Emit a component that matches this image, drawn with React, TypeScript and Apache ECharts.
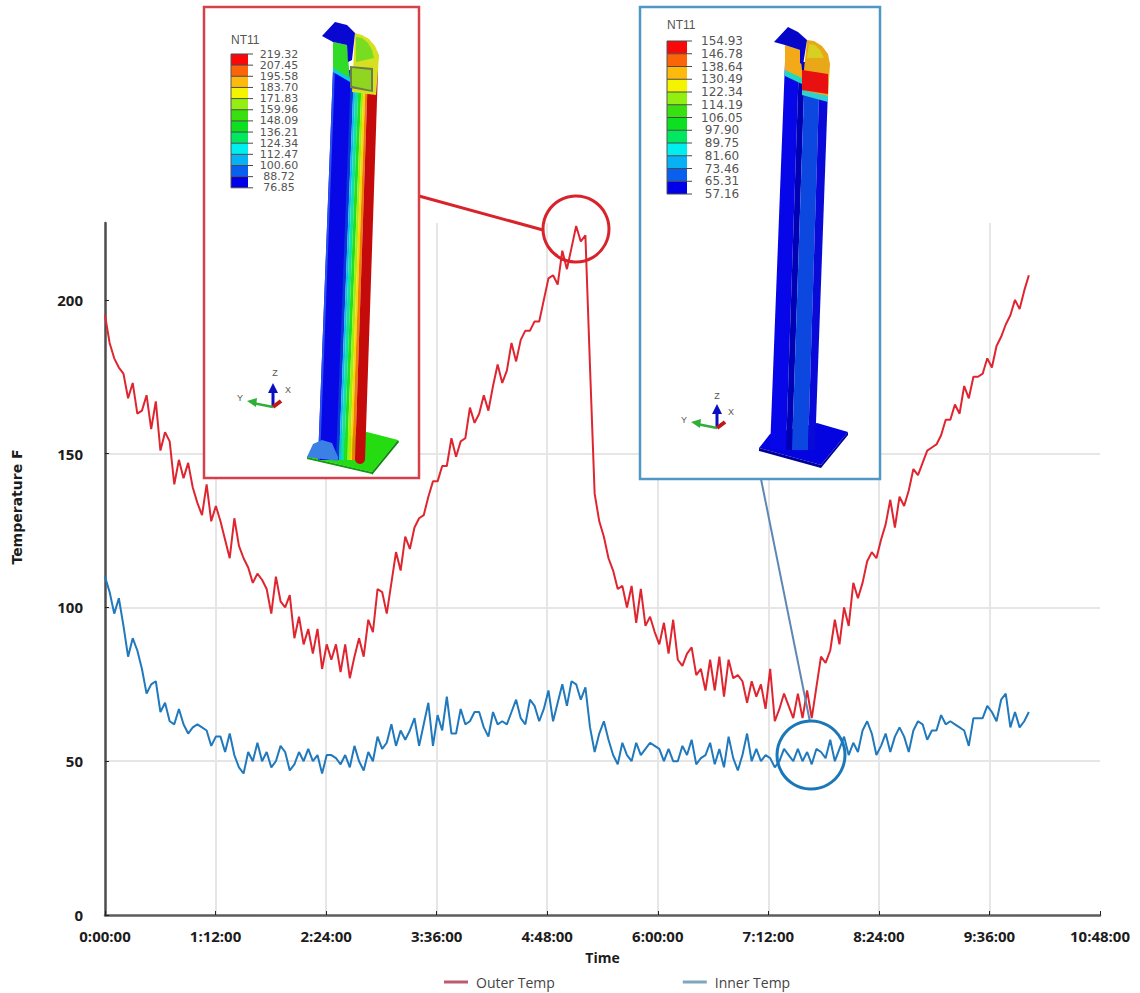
import React, { useEffect, useRef } from "react";
import * as echarts from "echarts";

const sampleSeconds = 180.5;
const yTicks = [0, 50, 100, 150, 200];
const legendNames = ["Outer Temp", "Inner Temp"];

const outerTemp = [
  195, 186, 181, 178, 176, 168, 173, 163, 164, 169,
  158, 167, 151, 157, 154, 140, 148, 142, 147, 139,
  134, 130, 140, 128, 133, 128, 122, 116, 129, 120,
  116, 113, 108, 111, 109, 106, 98, 110, 102, 100,
  104, 90, 97, 88, 93, 85, 93, 80, 88, 83,
  88, 79, 88, 77, 84, 90, 84, 96, 92, 106,
  105, 98, 108, 118, 112, 123, 119, 126, 129, 130,
  136, 141, 141, 146, 146, 155, 149, 154, 155, 165,
  160, 163, 169, 164, 172, 179, 173, 177, 186, 180,
  187, 190, 190, 193, 193, 200, 207, 208, 205, 216,
  210, 217, 224, 219, 221, 178, 137, 128, 123, 116,
  112, 106, 107, 100, 107, 95, 106, 94, 97, 92,
  88, 95, 85, 96, 83, 81, 85, 87, 78, 80,
  73, 83, 73, 84, 71, 83, 77, 78, 76, 69,
  76, 71, 75, 67, 80, 63, 67, 72, 68, 64,
  72, 64, 73, 64, 74, 84, 82, 86, 96, 88,
  100, 94, 108, 103, 108, 115, 118, 116, 122, 127,
  135, 126, 136, 133, 138, 145, 143, 147, 151, 152,
  153, 156, 161, 161, 166, 163, 172, 168, 175, 175,
  176, 181, 178, 185, 188, 192, 195, 200, 197, 203,
  208,
];

const innerTemp = [
  110, 105, 98, 103, 94, 84, 90, 86, 80, 72,
  75, 76, 66, 69, 63, 62, 67, 62, 59, 61,
  62, 61, 60, 55, 58, 58, 53, 59, 52, 48,
  46, 53, 50, 56, 50, 53, 48, 50, 55, 53,
  47, 49, 53, 50, 54, 50, 52, 46, 52, 52,
  51, 49, 52, 48, 55, 50, 47, 53, 50, 58,
  54, 56, 62, 55, 60, 57, 60, 64, 55, 62,
  69, 55, 65, 60, 71, 59, 59, 67, 62, 63,
  66, 66, 61, 58, 66, 62, 63, 62, 66, 70,
  64, 62, 70, 68, 63, 67, 73, 63, 69, 75,
  68, 76, 75, 70, 74, 61, 53, 59, 63, 57,
  52, 49, 56, 52, 50, 56, 52, 54, 56, 55,
  54, 50, 54, 50, 50, 55, 52, 57, 49, 51,
  52, 56, 49, 54, 48, 58, 51, 47, 52, 59,
  50, 54, 50, 52, 51, 48, 50, 54, 52, 50,
  54, 50, 53, 49, 54, 53, 51, 57, 50, 54,
  58, 52, 56, 53, 60, 63, 59, 52, 55, 59,
  53, 58, 61, 58, 53, 60, 63, 62, 57, 60,
  60, 65, 62, 63, 62, 61, 60, 55, 64, 64,
  64, 68, 66, 63, 70, 72, 61, 66, 61, 63,
  66,
];

const redLegendLabels = ["219.32", "207.45", "195.58", "183.70", "171.83", "159.96", "148.09", "136.21", "124.34", "112.47", "100.60", "88.72", "76.85"];
const blueLegendLabels = ["154.93", "146.78", "138.64", "130.49", "122.34", "114.19", "106.05", "97.90", "89.75", "81.60", "73.46", "65.31", "57.16"];
const bandColors = ["#f80808", "#fb6408", "#fdb90c", "#f4f400", "#92ef10", "#38e010", "#0ce020", "#00e860", "#00eeee", "#08b0f4", "#0a60ee", "#0000e8"];

const fmtTime = (v: number) => {
  const h = Math.floor(v / 3600);
  const m = Math.floor((v % 3600) / 60);
  return `${h}:${String(m).padStart(2, "0")}:00`;
};

const Z = 100;
const poly = (points: number[][], fill: string, z = Z + 1) => ({ type: "polygon", z, shape: { points }, style: { fill } });
const label = (text: string, x: number, y: number, font: string, fill = "#555", align = "center") => ({
  type: "text", z: Z + 3, x, y,
  style: { text, font, fill, textAlign: align, textVerticalAlign: "middle" },
});
const seg = (x1: number, y1: number, x2: number, y2: number, stroke: string, lineWidth: number, z = Z + 2) => ({
  type: "line", z, shape: { x1, y1, x2, y2 }, style: { stroke, lineWidth },
});

function legendBar(x: number, top: number, step: number, width: number, texts: string[], cx: number, font: string, nameX: number, nameY: number) {
  const out: any[] = [label("NT11", nameX, nameY, "12px 'Liberation Sans'", "#555", "left")];
  bandColors.forEach((c, i) => {
    out.push({ type: "rect", z: Z + 1, shape: { x, y: top + i * step, width, height: step }, style: { fill: c } });
  });
  texts.forEach((t, i) => {
    const y = top + i * step;
    out.push(seg(x, y, x + width + 5, y, "#4a4a4a", 1));
    out.push(label(t, cx, y, font));
  });
  out.push(seg(x, top, x, top + 12 * step, "#555", 1));
  return out;
}

function triad(ox: number, oy: number, lx: number[], ly: number[], lz: number[]) {
  return [
    seg(ox, oy, ox, oy - 16, "#0a10c0", 3),
    poly([[ox - 5, oy - 14], [ox, oy - 24], [ox + 5, oy - 14]], "#0a10c0"),
    seg(ox, oy, ox - 20, oy - 4, "#2fae3a", 2.5),
    poly([[ox - 16, oy - 9], [ox - 26, oy - 6], [ox - 17, oy + 0]], "#2fae3a"),
    seg(ox, oy, ox + 8, oy - 6, "#c01818", 4),
    label("Z", lz[0], lz[1], "9px 'Liberation Sans'"),
    label("Y", ly[0], ly[1], "9px 'Liberation Sans'"),
    label("X", lx[0], lx[1], "9px 'Liberation Sans'"),
  ];
}

function strip(y0: number, y1: number, a0: number, b0: number, a1: number, b1: number, fill: string) {
  return poly([[a0, y0], [b0, y0], [b1, y1], [a1, y1]], fill);
}

function redInset() {
  const out: any[] = [
    { type: "rect", z: Z, shape: { x: 204, y: 7, width: 215, height: 471 }, style: { fill: "#fff", stroke: "#d6404a", lineWidth: 2.5 } },
    ...legendBar(231, 54, 11.15, 17, redLegendLabels, 279, "11px 'DejaVu Sans'", 231, 40),
  ];
  // base plate
  out.push(poly([[307, 457], [322, 442], [367, 432], [398, 440], [372, 472]], "#25dc10"));
  out.push(poly([[307, 457], [372, 472], [372, 474], [307, 459]], "#0f9a10"));
  out.push(poly([[372, 472], [398, 440], [399, 442], [372, 475]], "#0d8a0d"));
  out.push(poly([[338, 459], [350, 462], [358, 464], [340, 460]], "#10c8a0"));
  // column strips
  const y0 = 70, y1 = 460;
  out.push(strip(y0, y1, 333, 353, 318, 338, "#0808e6"));
  out.push(strip(y0, y1, 333, 335, 318, 320, "#2a50f0"));
  out.push(strip(y0, y1, 351, 354, 336, 339, "#0838d8"));
  out.push(strip(y0, y1, 354, 356, 339, 341, "#10b8f0"));
  out.push(strip(y0, y1, 356, 359, 341, 344, "#10e0a0"));
  out.push(strip(y0, y1, 359, 362, 344, 347, "#20e020"));
  out.push(strip(y0, y1, 362, 364, 347, 350, "#a0ee10"));
  out.push(strip(y0, y1, 364, 366, 350, 352, "#f8d800"));
  out.push(strip(y0, y1, 366, 368, 352, 355, "#f08000"));
  out.push(strip(y0, y1, 368, 378, 355, 365, "#c40a0a"));
  out.push({ type: "circle", z: Z + 1, shape: { cx: 360, cy: 459, r: 5 }, style: { fill: "#c40a0a" } });
  out.push(poly([[307, 457], [313, 444], [322, 440], [332, 443], [338, 457], [338, 461]], "#3b80e4"));
  // head
  out.push(poly([[333, 42], [347, 45], [350, 80], [333, 70]], "#30dc28"));
  out.push(poly([[333, 68], [350, 78], [350, 82], [333, 72]], "#10c8e0"));
  out.push(poly([[355, 33], [362, 35], [369, 39], [375, 46], [379, 55], [378, 70], [376, 95], [352, 92]], "#d6e020"));
  out.push(poly([[356, 37], [362, 38], [368, 43], [372, 50], [374, 58], [356, 62]], "#78dc20"));
  out.push(poly([[350, 66], [373, 68], [373, 92], [350, 88]], "#6a7c50"));
  out.push(poly([[352, 68], [371, 70], [371, 90], [352, 86]], "#90d620"));
  out.push(poly([[322, 36], [335, 22], [347, 25], [355, 33], [352, 60], [348, 62], [347, 45], [333, 42]], "#0808d0"));
  out.push(...triad(273, 407, [288, 390], [240, 398], [275, 373]));
  return out;
}

function blueInset() {
  const out: any[] = [
    { type: "rect", z: Z, shape: { x: 640, y: 7, width: 240, height: 472 }, style: { fill: "#fff", stroke: "#4f97c4", lineWidth: 2.5 } },
    ...legendBar(667, 41, 12.75, 20, blueLegendLabels, 722, "12px 'DejaVu Sans'", 667, 25),
  ];
  out.push(poly([[759, 448], [770, 434], [817, 423], [848, 432], [821, 465]], "#0404e0"));
  out.push(poly([[759, 448], [821, 465], [821, 468], [759, 451]], "#00009a"));
  out.push(poly([[821, 465], [848, 432], [848, 435], [821, 468]], "#00009a"));
  const y0 = 62, y1 = 450;
  out.push(strip(y0, y1, 785, 799, 770, 786, "#0606e8"));
  out.push(strip(y0, y1, 799, 805, 786, 792, "#0000b4"));
  out.push(strip(y0, y1, 805, 820, 792, 808, "#0c48e0"));
  out.push(strip(y0, y1, 820, 829, 808, 815, "#0a0ad8"));
  out.push(poly([[785, 45], [800, 50], [803, 80], [785, 72]], "#f4aa18"));
  out.push(poly([[785, 70], [802, 78], [802, 84], [785, 76]], "#20d8c0"));
  out.push(poly([[807, 40], [814, 41], [822, 46], [828, 54], [830, 64], [829, 80], [828, 98], [802, 90]], "#e8a818"));
  out.push(poly([[809, 44], [815, 45], [820, 50], [824, 58], [807, 58]], "#d8d020"));
  out.push(poly([[802, 90], [828, 96], [828, 102], [802, 95]], "#30d0d0"));
  out.push(poly([[802, 70], [828, 74], [828, 94], [802, 90]], "#e81010"));
  out.push(poly([[774, 42], [788, 27], [798, 32], [807, 40], [803, 65], [800, 63], [800, 50], [785, 45]], "#0606c8"));
  out.push(...triad(717, 428, [731, 412], [684, 420], [717, 396]));
  return out;
}

const callouts = () => [
  seg(419, 196, 543, 230, "#d9232b", 3, Z),
  { type: "circle", z: Z, shape: { cx: 576, cy: 229, r: 33 }, style: { fill: "none", stroke: "#d9232b", lineWidth: 3 } },
  seg(761, 479, 810, 722, "#5f86b5", 2, Z),
  { type: "circle", z: Z, shape: { cx: 811, cy: 755, r: 34 }, style: { fill: "none", stroke: "#1a78b8", lineWidth: 3 } },
];

export default function App() {
  const ref = useRef<HTMLDivElement>(null);
  useEffect(() => {
    const chart = echarts.init(ref.current!, null, { renderer: "svg" });
    const tickFont = { fontFamily: "'Open Sans'", fontWeight: 700, fontSize: 15, color: "#1c1c1c" };
    chart.setOption({
      animation: false,
      backgroundColor: "#fff",
      grid: { left: 105, right: 40, top: 223, bottom: 78, containLabel: false },
      legend: {
        left: 444, top: 975, padding: 0, itemWidth: 24, itemHeight: 3, itemGap: 128,
        icon: "rect",
        textStyle: { fontFamily: "'Open Sans'", fontSize: 14, color: "#444", padding: [0, 0, 0, 3] },
        data: [
          { name: legendNames[0], itemStyle: { color: "#bd5a6e" } },
          { name: legendNames[1], itemStyle: { color: "#7ea7bb" } },
        ],
      },
      xAxis: {
        type: "value", min: 0, max: 38880, interval: 4320,
        name: "Time", nameLocation: "middle", nameGap: 35,
        nameTextStyle: { fontFamily: "'Open Sans'", fontWeight: 700, fontSize: 14, color: "#1c1c1c" },
        axisLine: { lineStyle: { color: "#5c5c5c", width: 2.5 } },
        axisTick: { inside: true, length: 4, lineStyle: { color: "#222", width: 1 } },
        axisLabel: { ...tickFont, margin: 13, formatter: fmtTime, showMinLabel: true, showMaxLabel: true },
        splitLine: { show: true, showMinLine: false, showMaxLine: false, lineStyle: { color: "#e6e6e6", width: 2 } },
      },
      yAxis: {
        type: "value", min: 0, max: 225, interval: 50,
        axisLine: { show: true, lineStyle: { color: "#4c4c4c", width: 2.5 } },
        axisTick: { show: true, inside: true, length: 4, customValues: yTicks, lineStyle: { color: "#222", width: 1 } },
        axisLabel: { ...tickFont, margin: 22, customValues: yTicks },
        splitLine: { show: true, showMinLine: false, showMaxLine: false, lineStyle: { color: "#e6e6e6", width: 2 } },
      },
      series: [
        {
          name: legendNames[0], type: "line", showSymbol: false, symbol: "none", z: 3,
          lineStyle: { color: "#df2630", width: 2 }, itemStyle: { color: "#df2630" },
          data: outerTemp.map((v, i) => [i * sampleSeconds, v]),
        },
        {
          name: legendNames[1], type: "line", showSymbol: false, symbol: "none", z: 3,
          lineStyle: { color: "#2079bd", width: 2 }, itemStyle: { color: "#2079bd" },
          data: innerTemp.map((v, i) => [i * sampleSeconds, v]),
        },
      ],
      graphic: {
        elements: [
          {
            type: "text", z: Z, x: 17, y: 507, rotation: Math.PI / 2,
            style: { text: "Temperature F", font: "700 14px 'DejaVu Sans'", fill: "#1c1c1c", textAlign: "center", textVerticalAlign: "middle" },
          },
          ...callouts(),
          ...redInset(),
          ...blueInset(),
        ],
      },
    });
    return () => chart.dispose();
  }, []);
  return <div ref={ref} style={{ position: "absolute", left: 0, top: 0, width: 1140, height: 993 }} />;
}
